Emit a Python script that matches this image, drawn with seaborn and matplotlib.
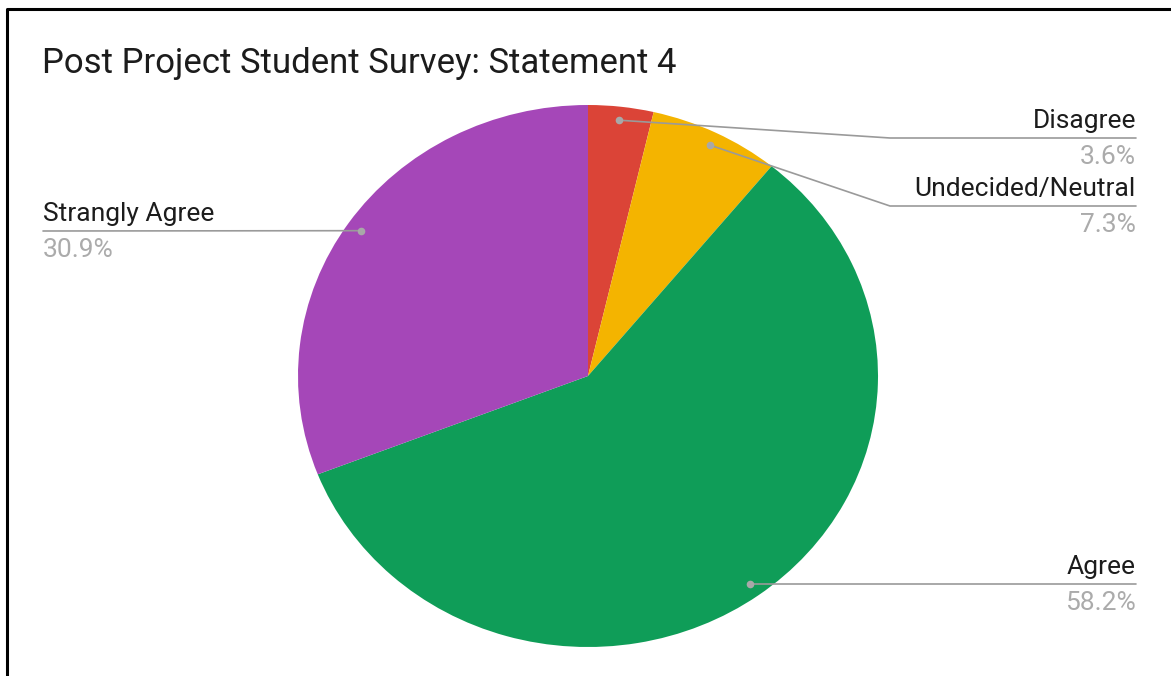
import numpy as np
import matplotlib
matplotlib.use("Agg")
import matplotlib.pyplot as plt
import seaborn as sns

# Survey data (55 responses)
categories = ["Disagree", "Undecided/Neutral", "Agree", "Strangly Agree"]
counts = [2, 4, 32, 17]
colors = ["#DB4437", "#F4B400", "#0F9D58", "#A547B8"]
title = "Post Project Student Survey: Statement 4"

sns.set_theme(style="white")
plt.rcParams['font.family'] = ['Roboto', 'DejaVu Sans']

W, H = 1171, 676
fig = plt.figure(figsize=(W / 100, H / 100), dpi=100)
fig.patch.set_facecolor("white")

# pie box in pixels (the reference is slightly stretched horizontally)
cx, cy, rx, ry = 588, 376, 290, 271
ax = fig.add_axes([(cx - rx) / W, (H - cy - ry) / H, 2 * rx / W, 2 * ry / H])
ax.pie(counts, colors=colors, startangle=90, counterclock=False,
       wedgeprops=dict(linewidth=0))
ax.set_aspect('auto')
ax.set_xlim(-1, 1)
ax.set_ylim(-1, 1)
ax.axis('off')

# overlay in pixel coordinates for labels / leader lines
ov = fig.add_axes([0, 0, 1, 1], zorder=5)
ov.set_xlim(0, W)
ov.set_ylim(H, 0)
ov.axis('off')
ov.patch.set_alpha(0)

# frame
ov.plot([7, 7, W + 5], [H + 5, 9, 9], color="black", lw=2.2, solid_capstyle='butt')

ov.text(42, 73, title, fontsize=25, color="#1c1c1c", va='baseline', ha='left')

shares = np.array(counts) / np.sum(counts)
mids = np.cumsum(shares) - shares / 2
# label row positions (line y) and side
rows = {"Disagree": (138, 'right'), "Undecided/Neutral": (206, 'right'),
        "Agree": (584, 'right'), "Strangly Agree": (231, 'left')}
line_col = "#9a9a9a"
for name, share, m in zip(categories, shares, mids):
    th = 2 * np.pi * m
    dx = cx + 0.95 * rx * np.sin(th)
    dy = cy - 0.95 * ry * np.cos(th)
    ly, side = rows[name]
    if side == 'right':
        ex = 890 if abs(dy - ly) > 2 else dx
        ov.plot([dx, ex, 1136], [dy, ly, ly], color=line_col, lw=1.2)
        tx, ha = 1136, 'right'
    else:
        ov.plot([dx, 43], [dy, ly], color=line_col, lw=1.2)
        tx, ha = 43, 'left'
    ov.plot([dx], [dy], 'o', color="#a8a8a8", markersize=5.5, markeredgewidth=0)
    ov.text(tx, ly - 10, name, fontsize=19, color="#1c1c1c", ha=ha, va='baseline')
    ov.text(tx, ly + 26, f"{share * 100:.1f}%", fontsize=19, color="#ababab",
            ha=ha, va='baseline')

fig.savefig("out.png", dpi=100)
